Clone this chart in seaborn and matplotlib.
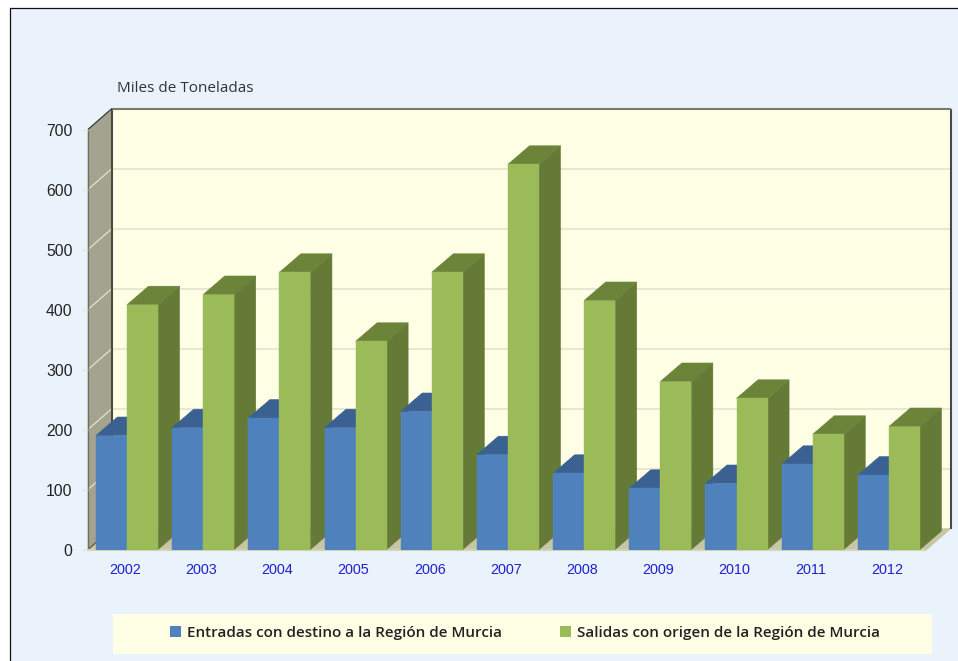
import matplotlib
matplotlib.use("Agg")
import matplotlib.pyplot as plt
import seaborn as sns
import pandas as pd
from matplotlib.patches import Polygon, Rectangle
from matplotlib.lines import Line2D
from matplotlib.transforms import ScaledTranslation

years = ["2002","2003","2004","2005","2006","2007","2008","2009","2010","2011","2012"]
entradas = [190,203,219,203,230,158,127,102,110,142,124]
salidas = [408,425,462,347,462,642,415,280,252,192,205]
serie_e = "Entradas con destino a la Región de Murcia"
serie_s = "Salidas con origen de la Región de Murcia"
yticks = [0,100,200,300,400,500,600,700]

W, H = 958, 661
sns.set_theme(style="white")
plt.rcParams['font.family'] = ['Liberation Sans', 'DejaVu Sans']

fig = plt.figure(figsize=(W/100, H/100), dpi=100, facecolor="white")
fig.add_artist(Rectangle((10/W, 0), (W-10)/W, (H-8)/H, transform=fig.transFigure,
                         fc="#EAF3FB", ec="none", zorder=-5))
fig.add_artist(Line2D([10/W,10/W],[0,1-8/H], transform=fig.transFigure, color="#111111", lw=0.9, zorder=-4))
fig.add_artist(Line2D([10/W,1],[1-8/H,1-8/H], transform=fig.transFigure, color="#111111", lw=0.9, zorder=-4))

L, R, T, B = 88, 927, 129.5, 549.5
ax = fig.add_axes([L/W, 1-B/H, (R-L)/W, (B-T)/H])
ax.patch.set_alpha(0)

df = pd.DataFrame({
    "Año": years*2,
    "Miles": entradas+salidas,
    "Serie": [serie_e]*len(years)+[serie_s]*len(years),
})
front = {serie_e:"#4F81BD", serie_s:"#9BBB59"}
top = {serie_e:"#3A6191", serie_s:"#6B8439"}
side = {serie_e:"#375A85", serie_s:"#667A38"}
sns.barplot(data=df, x="Año", y="Miles", hue="Serie", hue_order=[serie_e,serie_s],
            palette=front, width=0.815, gap=0, saturation=1, errorbar=None, ax=ax,
            order=years, legend=False)
ax.set_xlim(-0.512, 10.5)
ax.set_ylim(0, 700)

wdx, wdy = 24/76.2, 21/0.6
bdx, bdy = 21.5/76.2, 18.5/0.6
x0, x1 = ax.get_xlim()

def poly(pts, fc, z, lw=0.4):
    ax.add_patch(Polygon(pts, closed=True, fc=fc, ec=fc, lw=lw, zorder=z, clip_on=False))

poly([(x0+wdx,wdy),(x1+wdx,wdy),(x1+wdx,700+wdy),(x0+wdx,700+wdy)], "#FFFFE6", 0.1)
poly([(x0,0),(x0+wdx,wdy),(x0+wdx,700+wdy),(x0,700)], "#A3A38F", 0.2)
poly([(x0,0),(x1,0),(x1+wdx,wdy),(x0+wdx,wdy)], "#C6C6A4", 0.2)

kw = dict(clip_on=False, solid_capstyle="butt")
for v in yticks[1:-1]:
    ax.plot([x0+wdx,x1+wdx],[v+wdy,v+wdy], color="#E8E8D2", lw=1.5, zorder=0.3, **kw)
for v in yticks:
    ax.plot([x0,x0+wdx],[v,v+wdy], color="#E4E4CC" if v else "#555544", lw=0.9, zorder=0.3, **kw)
ax.plot([x0+wdx,x0+wdx],[wdy,700+wdy], color="#4A4A44", lw=1.5, zorder=0.4, **kw)
ax.plot([x1+wdx,x1+wdx],[wdy,700+wdy], color="#4A4A4A", lw=1.5, zorder=0.4, **kw)
ax.plot([x0+wdx,x1+wdx],[700+wdy,700+wdy], color="#7A7A6E", lw=1.5, zorder=0.4, **kw)
ax.plot([x0,x0+wdx],[700,700+wdy], color="#333333", lw=0.9, zorder=0.4, **kw)
ax.plot([x0,x0],[0,700], color="#6E6E60", lw=0.9, zorder=0.4, **kw)
ax.plot([x0,x1],[0,0], color="#D2D2B4", lw=1.5, zorder=0.45, **kw)

for h, (container, name) in enumerate(zip(ax.containers, [serie_e, serie_s])):
    for g, b in enumerate(container):
        xa, w, v = b.get_x(), b.get_width(), b.get_height()
        xb = xa + w
        z = 2 + 3*g + 1.5*h
        poly([(xb,0),(xb+bdx,bdy),(xb+bdx,v+bdy),(xb,v)], side[name], z)
        poly([(xa,v),(xb,v),(xb+bdx,v+bdy),(xa+bdx,v+bdy)], top[name], z+0.1)
        b.set_zorder(z+0.2)
        b.set_edgecolor(front[name])
        b.set_linewidth(0.3)

sns.despine(ax=ax, left=True, bottom=True, top=True, right=True)
ax.set_xlabel(""); ax.set_ylabel("")
ax.set_yticks(yticks)
ax.tick_params(axis="y", length=4, width=0.8, color="#E4E4CC", labelsize=11.3, labelcolor="#222222", pad=7, left=True)
ax.tick_params(axis="x", length=0, labelsize=10.4, labelcolor="#2020CC", pad=10)
shift = ScaledTranslation(-2/100, 0, fig.dpi_scale_trans)
for lab in ax.get_xticklabels():
    lab.set_transform(lab.get_transform() + shift)
ax.grid(False)

fig.text(117/W, 1-89/H, "Miles de Toneladas", family=["Open Sans","DejaVu Sans"],
         fontsize=11, color="#333333", va="center", ha="left")

fig.add_artist(Rectangle((113/W, 1-654/H), 819/W, 40/H, transform=fig.transFigure,
                         fc="#FFFFE6", ec="none", zorder=-3))
handles = [Rectangle((0,0),1,1,fc=front[serie_e],ec="none"), Rectangle((0,0),1,1,fc=front[serie_s],ec="none")]
fig.legend(handles, [serie_e, serie_s], ncols=2, loc="center", bbox_to_anchor=(525/W, 1-633/H),
           frameon=False, handlelength=0.72, handleheight=0.72, handletextpad=0.35, columnspacing=3.85,
           prop={"family":["Open Sans","DejaVu Sans"], "size":11, "weight":"semibold"},
           labelcolor="#222222")
fig.savefig("out.png", dpi=100, facecolor="white")
